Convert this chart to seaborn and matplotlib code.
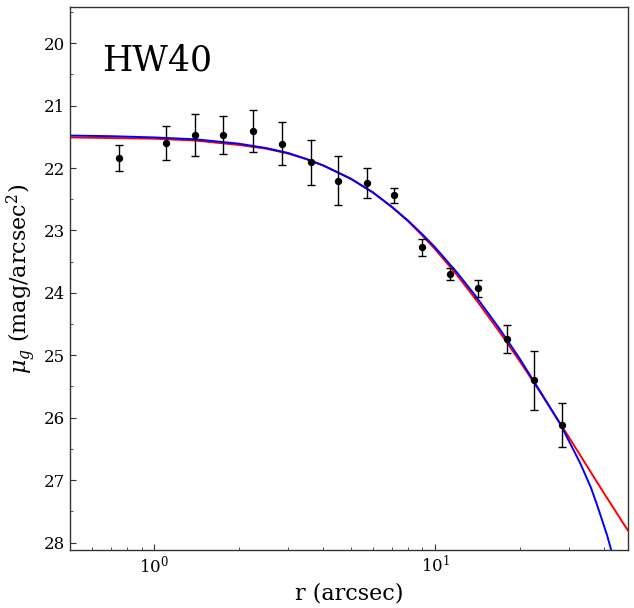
import numpy as np
import pandas as pd
import matplotlib
matplotlib.use("Agg")
import matplotlib.pyplot as plt
import seaborn as sns
from matplotlib.ticker import MultipleLocator

# measured surface brightness profile
radius = [0.748, 1.10, 1.40, 1.76, 2.25, 2.85, 3.62, 4.52, 5.74, 7.16,
          9.01, 11.34, 14.19, 18.1, 22.59, 28.41]
mu_obs = [21.84, 21.60, 21.47, 21.47, 21.41, 21.61, 21.91, 22.20, 22.24, 22.44,
          23.27, 23.70, 23.93, 24.74, 25.40, 26.12]
mu_err = [0.21, 0.27, 0.33, 0.30, 0.34, 0.34, 0.36, 0.39, 0.24, 0.12,
          0.14, 0.10, 0.13, 0.22, 0.47, 0.35]

# red fit curve
red_r = [0.5, 0.7, 1.0, 1.4, 2.0, 2.5, 3.0, 3.5, 4.0, 5.0, 6.0, 7.0, 8.0, 9.0,
         10, 12, 14, 17, 20, 24, 28, 33, 40, 48.7]
red_mu = [21.51, 21.52, 21.53, 21.56, 21.63, 21.69, 21.77, 21.86, 21.96, 22.17,
          22.39, 22.62, 22.85, 23.08, 23.30, 23.72, 24.11, 24.63, 25.09, 25.63,
          26.10, 26.61, 27.21, 27.81]

# blue fit curve
blue_r = [0.5, 0.7, 1.0, 1.4, 2.0, 2.5, 3.0, 3.5, 4.0, 5.0, 6.0, 7.0, 8.0, 9.0,
          10, 12, 14, 17, 20, 24, 28, 33, 36, 38, 41, 44]
blue_mu = [21.48, 21.49, 21.51, 21.54, 21.61, 21.68, 21.76, 21.86, 21.96, 22.17,
           22.39, 22.62, 22.84, 23.06, 23.27, 23.68, 24.06, 24.58, 25.05, 25.62,
           26.11, 26.74, 27.13, 27.43, 27.88, 28.37]

sns.set_style("ticks")
plt.rcParams['font.family'] = ['DejaVu Serif']
plt.rcParams['mathtext.fontset'] = 'dejavuserif'
plt.rcParams['text.color'] = 'black'
plt.rcParams['axes.labelcolor'] = 'black'

obs = pd.DataFrame({'r': radius, 'mu': mu_obs, 'err': mu_err})
red = pd.DataFrame({'r': red_r, 'mu': red_mu})
blue = pd.DataFrame({'r': blue_r, 'mu': blue_mu})

fig, ax = plt.subplots(figsize=(6.34, 6.08), dpi=100)
fig.subplots_adjust(left=0.1104, right=0.9905, top=0.9885, bottom=0.0954)
ax.set_xscale('log')

sns.lineplot(data=red, x='r', y='mu', color='red', lw=1.4, ax=ax, zorder=2)
sns.lineplot(data=blue, x='r', y='mu', color='blue', lw=1.4, ax=ax, zorder=2)
ax.errorbar(obs['r'], obs['mu'], yerr=obs['err'], fmt='none', ecolor='black',
            elinewidth=1, capsize=3, capthick=1, zorder=3)
sns.scatterplot(data=obs, x='r', y='mu', color='black', s=28, edgecolor='black',
                linewidth=0, ax=ax, zorder=4)

ax.set_xlim(0.5, 48.7)
ax.set_ylim(28.12, 19.42)
ax.yaxis.set_major_locator(MultipleLocator(1))
ax.yaxis.set_minor_locator(MultipleLocator(0.5))

ax.tick_params(which='both', direction='in', colors='#333333', labelcolor='black',
               labelsize=12)
ax.tick_params(which='major', length=4)
ax.tick_params(which='minor', length=2.5)
for s in ax.spines.values():
    s.set_color('#333333')
    s.set_linewidth(1)

ax.set_xlabel('r (arcsec)', fontsize=16)
ax.set_ylabel(r'$\mu_g$ (mag/arcsec$^2$)', fontsize=16)
ax.text(0.057, 0.883, 'HW40', transform=ax.transAxes, fontsize=25,
        color='black', va='baseline', ha='left')

fig.savefig('out.png', dpi=100)
